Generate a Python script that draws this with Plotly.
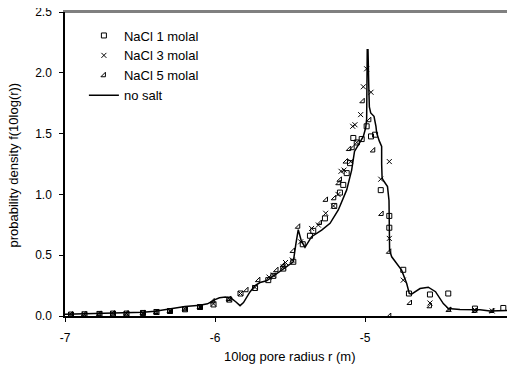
import plotly.graph_objects as go

# ---------------- data ----------------
sq_x = [-6.96, -6.87, -6.77, -6.68, -6.59, -6.48, -6.39, -6.30, -6.20, -6.10,
        -6.01, -5.905, -5.83, -5.733, -5.645, -5.611, -5.545, -5.478, -5.415, -5.367,
        -5.345, -5.267, -5.205, -5.167, -5.145, -5.122, -5.10, -5.078, -5.055, -5.022,
        -4.989, -4.96, -4.933, -4.895, -4.838, -4.838, -4.745, -4.707, -4.567, -4.445,
        -4.267, -4.078]
sq_y = [0.012, 0.014, 0.017, 0.020, 0.020, 0.025, 0.033, 0.041, 0.055, 0.074,
        0.095, 0.135, 0.185, 0.23, 0.295, 0.33, 0.39, 0.446, 0.59, 0.66,
        0.70, 0.803, 0.905, 1.015, 1.078, 1.175, 1.257, 1.464, 1.427, 1.455,
        1.56, 1.477, 1.491, 1.035, 0.823, 0.726, 0.38, 0.185, 0.177, 0.185,
        0.061, 0.066]

x3_x = [-6.96, -6.87, -6.77, -6.68, -6.59, -6.48, -6.39, -6.30, -6.20, -6.10,
        -6.01, -5.905, -5.83, -5.733, -5.64, -5.611, -5.545, -5.53, -5.485, -5.429,
        -5.356, -5.311, -5.262, -5.21, -5.18, -5.16, -5.14, -5.095, -5.082, -5.067,
        -5.055, -5.029, -5.011, -4.989, -4.96, -4.895, -4.838, -4.838, -4.745, -4.567,
        -4.44, -4.267, -4.152]
x3_y = [0.012, 0.014, 0.017, 0.020, 0.020, 0.025, 0.033, 0.041, 0.055, 0.074,
        0.10, 0.135, 0.185, 0.235, 0.32, 0.336, 0.404, 0.44, 0.46, 0.61,
        0.72, 0.748, 0.845, 0.905, 1.0, 1.19, 1.2, 1.27, 1.56, 1.573,
        1.427, 1.656, 1.885, 2.033, 1.84, 1.125, 1.27, 0.638, 0.295, 0.107,
        0.053, 0.05, 0.041]

tri_x = [-6.96, -6.87, -6.77, -6.68, -6.59, -6.48, -6.39, -6.30, -6.20, -6.10,
         -6.015, -5.905, -5.79, -5.711, -5.59, -5.545, -5.48, -5.445, -5.30, -5.26,
         -5.205, -5.175, -5.167, -5.127, -5.105, -5.082, -5.015, -4.971, -4.945, -4.889,
         -4.838, -4.838, -4.70, -4.567, -4.44, -4.267, -4.152]
tri_y = [0.012, 0.014, 0.017, 0.020, 0.020, 0.025, 0.033, 0.041, 0.055, 0.074,
         0.12, 0.14, 0.212, 0.295, 0.377, 0.418, 0.535, 0.734, 0.765, 0.955,
         0.968, 1.092, 1.12, 1.27, 1.373, 1.38, 1.766, 1.61, 1.361, 0.839,
         0.528, 0.0, 0.107, 0.08, 0.05, 0.041, 0.041]

ln_x = [-7.0, -6.8, -6.6, -6.48, -6.4, -6.3, -6.2, -6.1, -6.05, -6.0,
        -5.97, -5.93, -5.89, -5.86, -5.833, -5.81, -5.767, -5.733, -5.70, -5.656,
        -5.589, -5.522, -5.478, -5.46, -5.445, -5.425, -5.40, -5.356, -5.289, -5.233,
        -5.178, -5.122, -5.089, -5.07, -5.03, -5.011, -4.995, -4.989, -4.985, -4.980,
        -4.975, -4.971, -4.962, -4.94, -4.927, -4.922, -4.905, -4.889, -4.889, -4.886,
        -4.875, -4.85, -4.84, -4.838, -4.836, -4.822, -4.789, -4.756, -4.722, -4.705,
        -4.69, -4.633, -4.578, -4.53, -4.478, -4.444, -4.367, -4.233, -4.167, -4.0]
ln_y = [0.015, 0.02, 0.025, 0.03, 0.04, 0.06, 0.078, 0.088, 0.10, 0.135,
        0.150, 0.157, 0.145, 0.115, 0.085, 0.11, 0.198, 0.25, 0.275, 0.29,
        0.35, 0.404, 0.446, 0.6, 0.71, 0.62, 0.565, 0.652, 0.707, 0.762,
        0.872, 1.037, 1.2, 1.353, 1.436, 1.477, 1.55, 1.62, 2.19, 2.19,
        1.9, 1.72, 1.67, 1.642, 1.56, 1.505, 1.44, 1.394, 1.25, 1.134,
        1.11, 1.064, 0.95, 0.7, 0.54, 0.487, 0.432, 0.377, 0.267, 0.185,
        0.18, 0.226, 0.237, 0.2, 0.102, 0.061, 0.053, 0.052, 0.042, 0.047]

x_ticks = [-7, -6, -5, -4]
y_ticks = [0.0, 0.5, 1.0, 1.5, 2.0, 2.5]
x_title = "10log pore radius r (m)"
y_title = "probability density f(10log(r))"

FONT = "Arial, Liberation Sans, sans-serif"

fig = go.Figure()
fig.add_trace(go.Scatter(x=sq_x, y=sq_y, mode="markers", name="NaCl 1 molal",
                         cliponaxis=False,
                         marker=dict(symbol="square-open", size=5, color="black",
                                     line=dict(width=1, color="black"))))
fig.add_trace(go.Scatter(x=x3_x, y=x3_y, mode="markers", name="NaCl 3 molal",
                         cliponaxis=False,
                         marker=dict(symbol="x-thin-open", size=5, color="black",
                                     line=dict(width=1, color="black"))))
fig.add_trace(go.Scatter(x=tri_x, y=tri_y, mode="markers", name="NaCl 5 molal",
                         cliponaxis=False,
                         marker=dict(symbol="triangle-se-open", size=5, color="black",
                                     line=dict(width=1, color="black"))))
fig.add_trace(go.Scatter(x=ln_x, y=ln_y, mode="lines", name="no salt",
                         line=dict(color="black", width=1.5)))

# the page body has an 8px default margin, so the figure is drawn 8px smaller
fig.update_layout(
    template="none",
    width=507, height=359,
    margin=dict(l=57, r=0, t=4, b=51),
    paper_bgcolor="white", plot_bgcolor="white",
    font=dict(family=FONT, size=12, color="black"),
    showlegend=True,
    legend=dict(x=0.042, y=0.972, xanchor="left", yanchor="top",
                bgcolor="rgba(0,0,0,0)", borderwidth=0,
                font=dict(family=FONT, size=13, color="black"),
                tracegroupgap=0),
    xaxis=dict(range=[-7, -4], tickvals=x_ticks, ticktext=[str(v) for v in x_ticks],
               showgrid=False, zeroline=False, showline=True, linecolor="black",
               linewidth=1.5, ticks="outside", ticklen=4, tickcolor="black",
               tickwidth=1, automargin=False, ticklabelstandoff=6,
               ticklabeloverflow="allow", tickfont=dict(size=12)),
    # top frame line of the plot area (grey), drawn as an empty top axis
    xaxis2=dict(overlaying="x", side="top", range=[-7, -4], showline=True,
                linecolor="#808080", linewidth=2, showgrid=False, zeroline=False,
                ticks="", showticklabels=False, automargin=False, matches="x"),
    yaxis=dict(range=[0, 2.5], tickvals=y_ticks, ticktext=[f"{v:.1f}" for v in y_ticks],
               showgrid=False, zeroline=False, showline=True, linecolor="black",
               linewidth=1.5, ticks="outside", ticklen=4, tickcolor="black",
               tickwidth=1, automargin=False, ticklabelstandoff=5,
               ticklabeloverflow="allow", tickfont=dict(size=12)),
    shapes=[dict(type="line", xref="paper", yref="paper", x0=0, x1=1, y0=1, y1=1,
                 layer="above", line=dict(color="#808080", width=2))],
    annotations=[
        dict(text=x_title, xref="paper", yref="paper", x=0.5, y=-0.1316,
             xanchor="center", yanchor="middle", showarrow=False,
             font=dict(family=FONT, size=13)),
        dict(text=y_title, xref="paper", yref="paper", x=-0.1133, y=0.495,
             xanchor="center", yanchor="middle", showarrow=False, textangle=-90,
             font=dict(family=FONT, size=13)),
    ],
)
# an invisible trace keeps the top axis active
fig.add_trace(go.Scatter(x=[ln_x[0]], y=[ln_y[0]], xaxis="x2", mode="markers",
                         marker=dict(opacity=0), showlegend=False, hoverinfo="skip"))

fig.write_html("out.html")
